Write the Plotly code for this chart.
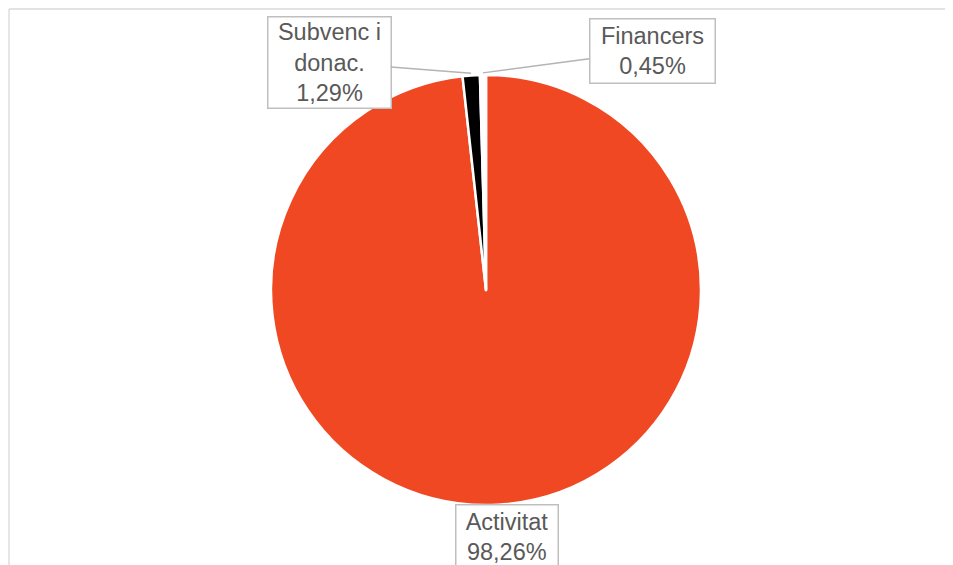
import math
import plotly.graph_objects as go

labels = ["Activitat", "Subvenc i donac.", "Financers"]
label_lines = ["Activitat", "Subvenc i<br>donac.", "Financers"]
values = [98.26, 1.29, 0.45]
pct_text = ["98,26%", "1,29%", "0,45%"]
colors = ["#EF4823", "#000000", "#FFFFFF"]

OFF = 8  # page body margin
W, H = 953 - OFF, 565 - OFF
cx, cy, r = 486 - OFF, 290 - OFF, 215

fig = go.Figure()
fig.add_trace(go.Pie(
    labels=labels, values=values, sort=False, direction="clockwise", rotation=0,
    marker=dict(colors=colors, line=dict(color="#FFFFFF", width=2.5)),
    textinfo="none", hoverinfo="label+percent", showlegend=False,
    domain=dict(x=[(cx - r) / W, (cx + r) / W], y=[(H - cy - r) / H, (H - cy + r) / H]),
))

# label boxes (layout positions, pixel coords) : center x, center y, width, height
boxes = [(506.5 - OFF, 537 - OFF, 97, 59), (329 - OFF, 62 - OFF, 118, 86), (652 - OFF, 50.5 - OFF, 120, 59)]
arrow_flags = [False, True, True]

total = sum(values)
cum = 0.0
annotations = []
for i, v in enumerate(values):
    theta = 2 * math.pi * (cum + v / 2) / total
    cum += v
    tx = cx + r * 1.01 * math.sin(theta)
    ty = cy - r * 1.01 * math.cos(theta)
    bx, by, bw, bh = boxes[i]
    text = label_lines[i] + "<br>" + pct_text[i]
    ann = dict(
        text=text, xref="x", yref="y",
        font=dict(family="Liberation Sans, Arial, sans-serif", size=23.5, color="#595959"),
        bordercolor="#BFBFBF", borderwidth=1.5, borderpad=2, bgcolor="#FFFFFF",
        width=bw, height=bh, align="center", valign="middle",
    )
    if arrow_flags[i]:
        ann.update(x=tx, y=ty, ax=bx, ay=by, axref="x", ayref="y", showarrow=True,
                   arrowhead=0, arrowwidth=1.5, arrowcolor="#B4B4B4", standoff=0)
    else:
        ann.update(x=bx, y=by, showarrow=False)
    annotations.append(ann)

fig.update_layout(
    width=W, height=H, margin=dict(l=0, r=0, t=0, b=0),
    paper_bgcolor="#FFFFFF", plot_bgcolor="rgba(0,0,0,0)",
    xaxis=dict(range=[0, W], visible=False, fixedrange=True),
    yaxis=dict(range=[H, 0], visible=False, fixedrange=True),
    annotations=annotations,
    shapes=[
        dict(type="line", xref="x", yref="y", x0=9 - OFF, y0=9 - OFF, x1=W, y1=9 - OFF,
             line=dict(color="#D9D9D9", width=1.3)),
        dict(type="line", xref="x", yref="y", x0=9 - OFF, y0=9 - OFF, x1=9 - OFF, y1=H,
             line=dict(color="#D9D9D9", width=1.3)),
    ],
)

fig.write_html("out.html")
